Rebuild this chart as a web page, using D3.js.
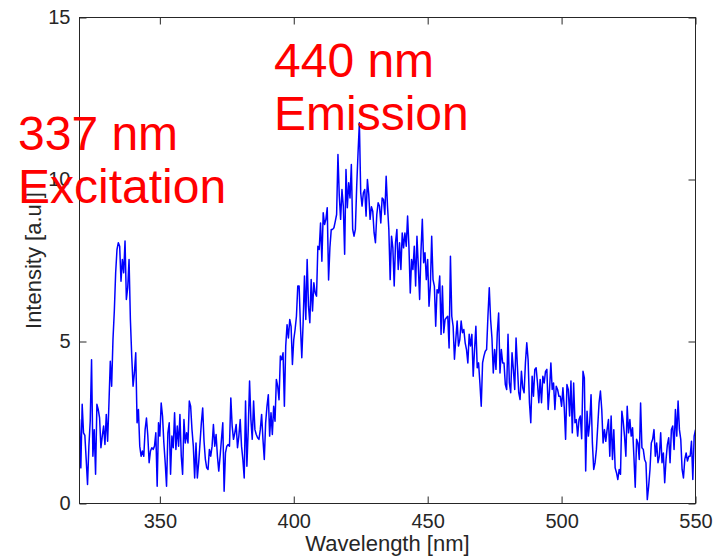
<!DOCTYPE html>
<html>
<head>
<meta charset="utf-8">
<script src="https://cdn.jsdelivr.net/npm/d3@7/dist/d3.min.js"></script>
<style>
  body { margin: 0; background: #ffffff; }
  svg { display: block; }
</style>
</head>
<body>
<svg id="chart" width="728" height="556"></svg>
<script>
// Fluorescence spectrum sampled every 0.5 nm from 320 nm to 550 nm
const wavelengthStart = 320;
const wavelengthStep = 0.5;

// 320.0 - 367.5 nm (scattered 337 nm excitation line)
const intensityExcitation = [
  2.6, 1.1, 3.06, 2.18, 2.1, 1.36, 0.59, 1.77, 2.54, 4.44,
  1.46, 2.28, 0.9, 3.06, 2.9, 2.64, 1.72, 2.08, 2.39, 1.82,
  2.75, 1.92, 3.1, 4.39, 3.62, 5.06, 5.94, 7.12, 7.84, 8.05,
  7.94, 6.86, 7.53, 7.12, 8.1, 6.3, 6.66, 7.53, 5.68, 4.55,
  3.62, 4.03, 4.65, 2.49, 2.9, 1.77, 1.46, 1.62, 1.46, 2.28,
  2.64, 2.1, 1.26, 1.62, 1.72, 1.67, 1.77, 2.18, 0.53, 2.49,
  2.08, 3.1, 2.7, 1.87, 1.26, 0.53, 2.18, 2.49, 0.9, 2.08,
  1.72, 2.8, 1.67, 2.39, 1.77, 2.75, 1.46, 0.9, 2.59, 1.87,
  2.18, 1.87, 3.16, 3.0, 2.28, 1.77, 0.79, 1.87, 0.79, 1.26,
  1.87, 2.49, 2.95, 1.92, 1.36, 1.1
];

// 368.0 - 412.5 nm (rising edge of the emission band)
const intensityRise = [
  1.05, 1.67, 1.46, 1.77, 2.44, 1.77, 2.13, 1.46, 1.0, 1.46,
  1.98, 2.49, 0.38, 1.56, 1.77, 1.82, 1.77, 3.26, 2.39, 1.98,
  2.18, 2.44, 1.72, 2.08, 2.59, 1.77, 1.36, 0.79, 3.16, 1.15,
  2.28, 3.78, 2.59, 1.98, 3.16, 2.28, 2.13, 2.03, 1.98, 2.28,
  2.75, 1.98, 1.36, 2.49, 3.0, 3.36, 2.08, 2.8, 2.13, 3.0,
  2.54, 3.83, 3.62, 3.2, 4.55, 4.44, 4.65, 3.0, 4.86, 5.52,
  5.11, 5.68, 5.47, 4.29, 5.06, 5.37, 5.78, 6.71, 6.71, 5.47,
  4.5, 5.58, 7.02, 5.68, 7.53, 6.09, 5.58, 6.91, 5.94, 6.81,
  6.5, 6.4, 7.94, 7.84, 8.66, 7.48, 8.97, 8.61, 8.77, 9.13
];

// 413.0 - 459.5 nm (emission maximum around 425-440 nm)
const intensityPeak = [
  6.9, 7.9, 8.46, 8.46, 8.51, 8.71, 8.92, 10.77, 9.49, 8.77,
  9.69, 9.18, 7.69, 10.31, 9.13, 9.9, 9.43, 10.46, 8.46, 8.25,
  8.46, 9.79, 10.82, 11.75, 9.59, 9.18, 9.59, 9.69, 8.87, 10.0,
  9.54, 8.77, 9.16, 9.02, 8.35, 8.05, 8.92, 9.28, 9.18, 8.66,
  9.43, 9.38, 8.92, 10.1, 9.18, 8.46, 6.91, 8.25, 7.89, 6.71,
  8.05, 8.46, 7.22, 8.05, 7.22, 8.35, 7.89, 8.35, 7.94, 8.87,
  7.94, 6.5, 7.53, 7.22, 7.94, 6.71, 8.25, 7.33, 6.3, 7.79,
  8.77, 7.43, 7.74, 6.91, 7.53, 6.09, 6.71, 8.25, 6.91, 6.71,
  5.47, 6.6, 6.5, 7.02, 5.22, 6.71, 5.27, 5.68, 5.73, 5.78,
  4.8, 7.63, 5.78, 5.47
];

// 460.0 - 506.0 nm (falling edge)
const intensityFall = [
  4.45, 5.06, 5.63, 4.86, 5.06, 5.63, 5.27, 5.37, 4.96, 4.75,
  4.34, 5.22, 4.86, 5.22, 3.93, 4.75, 5.47, 4.19, 4.34, 3.72,
  3.0, 4.34, 4.55, 4.7, 4.75, 5.78, 6.66, 5.68, 5.11, 4.03,
  4.75, 4.14, 5.27, 5.88, 4.03, 4.75, 4.34, 4.34, 3.67, 3.52,
  5.22, 3.72, 3.42, 4.65, 4.14, 3.52, 5.11, 4.24, 3.42, 3.21,
  4.08, 3.57, 3.42, 4.34, 4.96, 4.44, 3.11, 2.49, 3.93, 3.31,
  4.14, 4.19, 3.72, 3.11, 3.83, 3.11, 3.93, 3.72, 4.08, 4.14,
  2.9, 3.52, 4.34, 3.52, 3.72, 2.9, 3.62, 3.52, 3.31, 3.31,
  3.0, 3.57, 2.95, 1.98, 3.67, 3.52, 2.7, 3.78, 2.18, 3.72,
  2.49, 2.59, 2.08
];

// 506.5 - 550.0 nm (tail)
const intensityTail = [
  2.59, 2.7, 2.0, 4.08, 3.88, 1.0, 2.85, 2.08, 2.49, 3.36,
  1.87, 1.05, 1.26, 1.67, 2.39, 3.11, 3.47, 2.9, 1.87, 2.28,
  1.92, 2.28, 2.59, 1.46, 2.7, 1.36, 2.28, 1.1, 0.95, 0.74,
  1.05, 0.9, 2.85, 2.54, 2.08, 1.46, 3.0, 2.18, 2.59, 2.08,
  2.34, 1.46, 0.5, 1.98, 1.87, 1.36, 3.1, 1.72, 1.67, 1.36,
  1.26, 0.12, 0.53, 1.05, 1.87, 1.98, 2.28, 1.46, 1.87, 1.26,
  1.46, 2.18, 1.26, 1.56, 0.64, 1.36, 1.82, 2.03, 1.26, 2.28,
  2.39, 1.67, 2.9, 2.08, 3.16, 2.28, 1.98, 1.05, 0.79, 1.36,
  1.56, 1.31, 1.46, 1.46, 1.92, 0.74, 2.08, 2.28
];

const xDomain = [320, 550];
const yDomain = [0, 15];
const xTickValues = [350, 400, 450, 500, 550];
const yTickValues = [0, 5, 10, 15];
const xLabel = "Wavelength [nm]";
const yLabel = "Intensity [a.u.]";
const emissionNote = ["440 nm", "Emission"];
const excitationNote = ["337 nm", "Excitation"];

const intensity = [].concat(intensityExcitation, intensityRise, intensityPeak, intensityFall, intensityTail);
const spectrum = intensity.map((v, i) => ({ wl: wavelengthStart + i * wavelengthStep, v }));

const svg = d3.select("#chart");
const plotLeft = 79.5, plotRight = 695.5, plotTop = 17.5, plotBottom = 503.5;
const axisColor = "#262626";
const font = "'Liberation Sans', Arial, Helvetica, sans-serif";

const x = d3.scaleLinear().domain(xDomain).range([plotLeft, plotRight]);
const y = d3.scaleLinear().domain(yDomain).range([plotBottom, plotTop]);

svg.append("defs").append("clipPath").attr("id", "plot-clip")
  .append("rect").attr("x", plotLeft).attr("y", plotTop)
  .attr("width", plotRight - plotLeft).attr("height", plotBottom - plotTop);

// spectrum trace
svg.append("path")
  .datum(spectrum)
  .attr("clip-path", "url(#plot-clip)")
  .attr("fill", "none")
  .attr("stroke", "#0000ff")
  .attr("stroke-width", 1.5)
  .attr("stroke-linejoin", "round")
  .attr("d", d3.line().x(d => x(d.wl)).y(d => y(d.v)));

// boxed axes with inward ticks
function styleAxis(g) {
  g.select(".domain").remove();
  g.selectAll(".tick line").attr("stroke", axisColor).attr("stroke-width", 1);
  g.selectAll(".tick text").attr("fill", axisColor)
    .style("font-family", font).style("font-size", "20px");
}

svg.append("g").attr("transform", `translate(0,${plotBottom})`)
  .call(d3.axisBottom(x).tickValues(xTickValues).tickSizeInner(-7).tickSizeOuter(0).tickPadding(10))
  .call(styleAxis);
svg.append("g").attr("transform", `translate(0,${plotTop})`)
  .call(d3.axisTop(x).tickValues(xTickValues).tickSizeInner(-7).tickSizeOuter(0).tickFormat(""))
  .call(styleAxis);
svg.append("g").attr("transform", `translate(${plotLeft},0)`)
  .call(d3.axisLeft(y).tickValues(yTickValues).tickSizeInner(-7).tickSizeOuter(0).tickPadding(9))
  .call(styleAxis);
svg.append("g").attr("transform", `translate(${plotRight},0)`)
  .call(d3.axisRight(y).tickValues(yTickValues).tickSizeInner(-7).tickSizeOuter(0).tickFormat(""))
  .call(styleAxis);

svg.append("rect")
  .attr("x", plotLeft).attr("y", plotTop)
  .attr("width", plotRight - plotLeft).attr("height", plotBottom - plotTop)
  .attr("fill", "none").attr("stroke", axisColor).attr("stroke-width", 1);

// axis titles
svg.append("text")
  .attr("x", (plotLeft + plotRight) / 2).attr("y", 551)
  .attr("text-anchor", "middle")
  .attr("fill", axisColor)
  .style("font-family", font).style("font-size", "22px")
  .text(xLabel);

svg.append("text")
  .attr("transform", `translate(41,${(plotTop + plotBottom) / 2}) rotate(-90)`)
  .attr("text-anchor", "middle")
  .attr("fill", axisColor)
  .style("font-family", font).style("font-size", "22px")
  .text(yLabel);

// peak annotations, drawn last so they sit over the axis text
function note(lines, x0, y0) {
  const t = svg.append("text")
    .attr("fill", "#ff0000")
    .style("font-family", font).style("font-size", "48px");
  lines.forEach((s, i) => {
    t.append("tspan").attr("x", x0).attr("y", y0 + i * 53).text(s);
  });
}
note(emissionNote, 274, 77);
note(excitationNote, 18, 150);
</script>
</body>
</html>
